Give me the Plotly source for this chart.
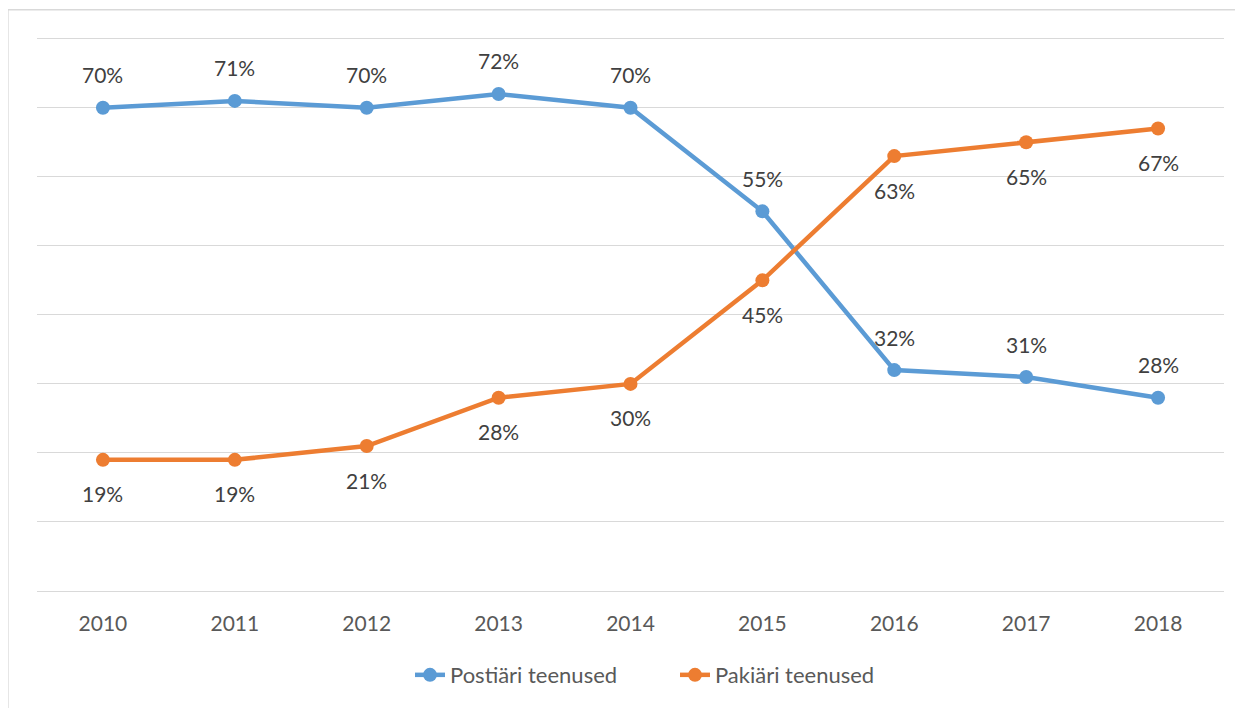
import plotly.graph_objects as go

years = ["2010", "2011", "2012", "2013", "2014", "2015", "2016", "2017", "2018"]
postiari = [70, 71, 70, 72, 70, 55, 32, 31, 28]
pakiari = [19, 19, 21, 28, 30, 45, 63, 65, 67]
series_names = ["Postiäri teenused", "Pakiäri teenused"]
colors = ["#5B9BD5", "#ED7D31"]

FONT = "Lato"
W, H = 1243, 708
OFF = 8  # page body margin
YMAX = 80.4
# plot area in screen px: x 37..1224, y (top of range)..591 ; 80% sits at y=39
top_screen = 591 - (591 - 39) * YMAX / 80
L, T = 37 - OFF, top_screen - OFF
R = W - (1224 - OFF)
B = H - (591 - OFF)
pw = W - L - R
ph = H - T - B

def px_x(sx):
    return (sx - OFF - L) / pw

def px_y(sy):
    return (H - B - (sy - OFF)) / ph

fig = go.Figure()
legend_refs = ["legend", "legend2"]
for name, vals, col, lg in zip(series_names, [postiari, pakiari], colors, legend_refs):
    fig.add_trace(go.Scatter(
        x=list(range(len(years))), y=vals, name=name, mode="lines+markers",
        line=dict(color=col, width=4.5),
        marker=dict(color=col, size=14),
        legend=lg,
    ))

annotations = []
for vals, shift in [(postiari, 33), (pakiari, -34)]:
    for i, v in enumerate(vals):
        annotations.append(dict(
            x=i, y=v, xref="x", yref="y", text=f"{v}%", showarrow=False,
            yshift=shift, font=dict(family=FONT, size=21, color="#404040"),
        ))

frame = dict(type="rect", xref="paper", yref="paper",
             x0=px_x(8), x1=px_x(1260), y0=px_y(720), y1=px_y(10),
             line=dict(color="#D9D9D9", width=1.3), fillcolor="rgba(0,0,0,0)", layer="below")

leg_common = dict(orientation="h", y=px_y(675), yanchor="middle", xanchor="left",
                  font=dict(family=FONT, size=22, color="#595959"), bgcolor="rgba(0,0,0,0)")

fig.update_layout(
    width=W, height=H,
    margin=dict(l=L, r=R, t=T, b=B),
    paper_bgcolor="white", plot_bgcolor="white",
    font=dict(family=FONT, size=21, color="#595959"),
    showlegend=True,
    legend=dict(x=px_x(410), **leg_common),
    legend2=dict(x=px_x(675), **leg_common),
    annotations=annotations,
    shapes=[frame],
    xaxis=dict(range=[-0.5, len(years) - 0.5], tickvals=list(range(len(years))), ticktext=years,
               showgrid=False, showline=True, linecolor="#D9D9D9", linewidth=1,
               ticks="", ticklabelstandoff=14, tickfont=dict(family=FONT, size=21, color="#595959"),
               zeroline=False),
    yaxis=dict(range=[0, YMAX], tickvals=[0, 10, 20, 30, 40, 50, 60, 70, 80], showgrid=True,
               gridcolor="#D9D9D9", gridwidth=1,
               showticklabels=False, zeroline=False, showline=False, ticks=""),
)

fig.write_html("out.html")
